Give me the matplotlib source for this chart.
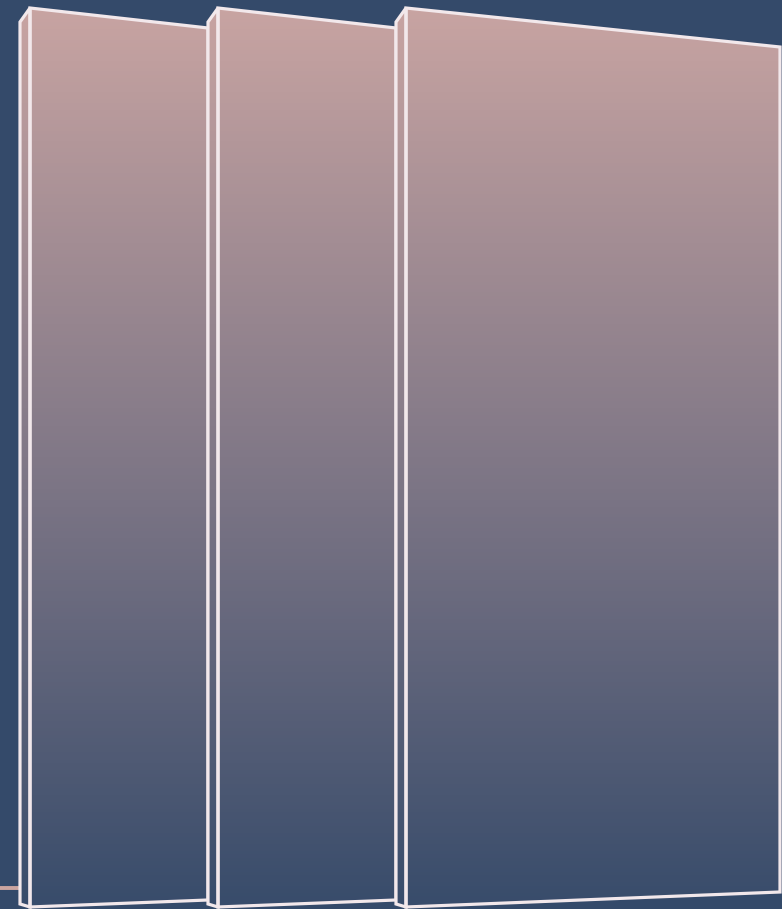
import matplotlib as mpl
import matplotlib.pyplot as plt
import numpy as np
from matplotlib.colors import LinearSegmentedColormap
from matplotlib.patches import Polygon

# ======= panels (pixel units) =======
panel_left = [30, 218, 406]
panel_right = [208, 396, 780]
top_left = [8, 8, 8]
top_right = [28, 28, 47]
bottom_left = [907, 907, 907]
bottom_right = [900, 900, 892]

side_depth = 10
side_top_drop = 14
side_bottom_rise = 3

bg = '#344a6a'
edge = '#f2e8eb'
grad = LinearSegmentedColormap.from_list('g', ['#c8a4a2', '#817887', '#384c6b'])

W, H = 782, 909
fig = plt.figure(figsize=(W / 100, H / 100), dpi=100, facecolor=bg)
ax = fig.add_axes([0, 0, 1, 1])
ax.set_facecolor(bg)
ax.set_xlim(0, W)
ax.set_ylim(H, 0)
ax.axis('off')

# floor line peeking out at the left
ax.plot([0, 19], [888, 888], color='#cba5a0', lw=2.8, solid_capstyle='butt', zorder=1)

gradient = np.linspace(0, 1, 256).reshape(-1, 1)

for i in range(len(panel_left)):
    x0, x1 = panel_left[i], panel_right[i]
    front = [(x0, top_left[i]), (x1, top_right[i]),
             (x1, bottom_right[i]), (x0, bottom_left[i])]
    side = [(x0 - side_depth, top_left[i] + side_top_drop), (x0, top_left[i]),
            (x0, bottom_left[i]), (x0 - side_depth, bottom_left[i] - side_bottom_rise)]

    for pts in (side, front):
        poly = Polygon(pts, closed=True, facecolor='none', edgecolor='none')
        ax.add_patch(poly)
        im = ax.imshow(gradient, cmap=grad, aspect='auto',
                       extent=(0, W, 907, 8), zorder=2 + i)
        im.set_clip_path(poly)
        ax.add_patch(Polygon(pts, closed=True, facecolor='none', edgecolor=edge,
                             lw=2.3, joinstyle='miter', zorder=2.5 + i))

ax.set_xlim(0, W)
ax.set_ylim(H, 0)

fig.savefig('out.png', dpi=100, facecolor=bg)
